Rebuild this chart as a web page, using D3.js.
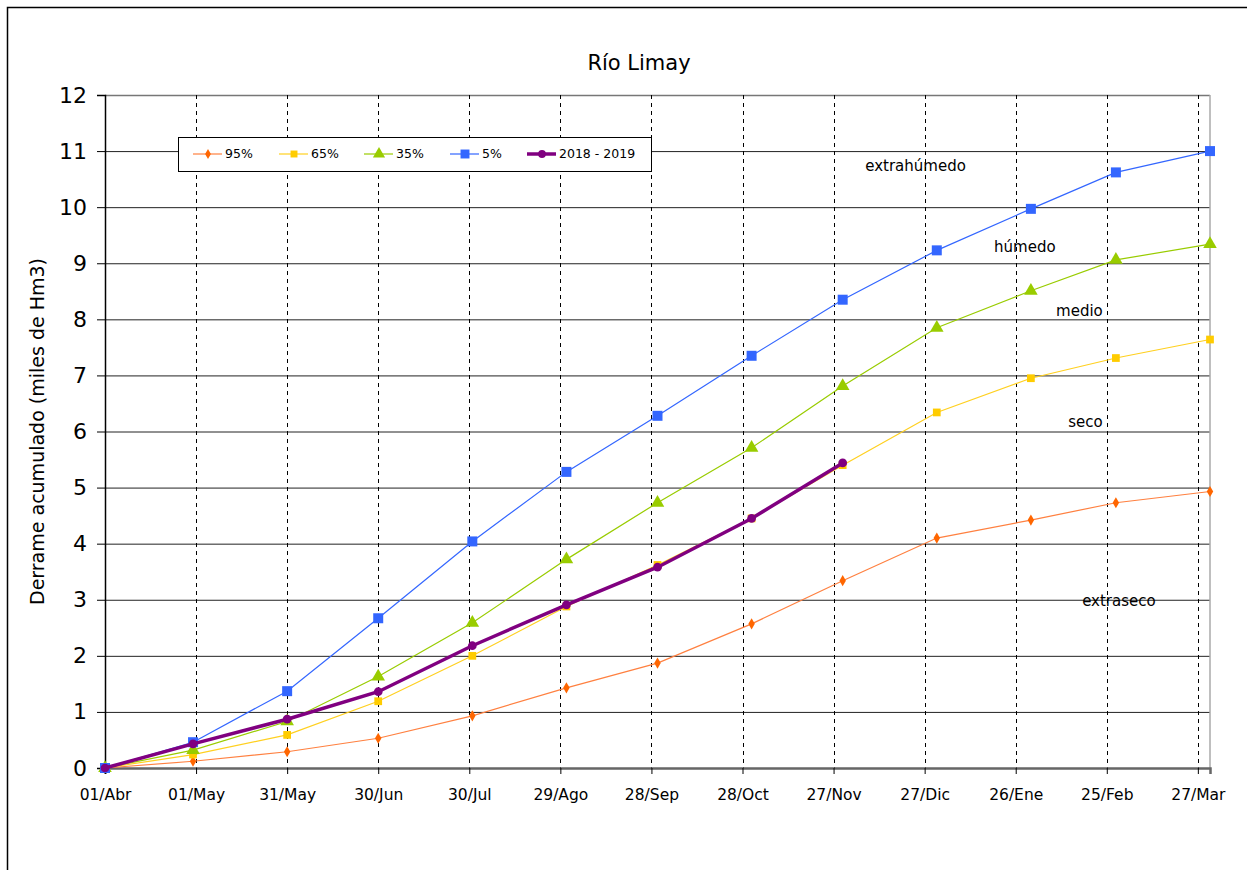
<!DOCTYPE html>
<html>
<head>
<meta charset="utf-8">
<script src="https://cdn.jsdelivr.net/npm/d3@7"></script>
<style>
  body { margin: 0; background: #fff; }
  svg { display: block; }
</style>
</head>
<body>
<svg width="1247" height="870"></svg>
<script>
'use strict';
// tick labels every 30 days from 01/Abr
var tickDates = ["2018-04-01", "2018-05-01", "2018-05-31", "2018-06-30", "2018-07-30", "2018-08-29",
  "2018-09-28", "2018-10-28", "2018-11-27", "2018-12-27", "2019-01-26", "2019-02-25", "2019-03-27"];
var tickLabels = ["01/Abr", "01/May", "31/May", "30/Jun", "30/Jul", "29/Ago",
  "28/Sep", "28/Oct", "27/Nov", "27/Dic", "26/Ene", "25/Feb", "27/Mar"];

// data points (start + month ends)
var pointDates = ["2018-04-01", "2018-04-30", "2018-05-31", "2018-06-30", "2018-07-31", "2018-08-31",
  "2018-09-30", "2018-10-31", "2018-11-30", "2018-12-31", "2019-01-31", "2019-02-28", "2019-03-31"];

var p95 = [0, 0.12, 0.29, 0.53, 0.93, 1.43, 1.87, 2.57, 3.34, 4.10, 4.42, 4.73, 4.93];
var p65 = [0, 0.24, 0.59, 1.19, 2.00, 2.88, 3.62, 4.45, 5.40, 6.34, 6.95, 7.31, 7.64];
var p35 = [0, 0.32, 0.83, 1.63, 2.59, 3.72, 4.73, 5.71, 6.81, 7.85, 8.51, 9.06, 9.34];
var p5  = [0, 0.46, 1.37, 2.67, 4.04, 5.28, 6.28, 7.35, 8.35, 9.23, 9.97, 10.62, 11.0];
var y2018 = [0, 0.43, 0.87, 1.36, 2.18, 2.91, 3.58, 4.45, 5.44];

var svg = d3.select("svg");
var parse = d3.utcParse("%Y-%m-%d");
var margin = {top: 95, right: 37, bottom: 102, left: 105};
var width = 1247 - margin.left - margin.right;
var height = 870 - margin.top - margin.bottom;
var font = "'DejaVu Sans', Verdana, sans-serif";

// outer frame
svg.append("rect")
  .attr("x", 7.5).attr("y", 7.5)
  .attr("width", 1260).attr("height", 880)
  .attr("fill", "none").attr("stroke", "#000").attr("stroke-width", 1.5);

var x = d3.scaleUtc()
  .domain([parse("2018-04-01"), parse("2019-03-31")])
  .range([0, width]);
var y = d3.scaleLinear().domain([0, 12]).range([height, 0]);

var g = svg.append("g").attr("transform", "translate(" + margin.left + "," + margin.top + ")");

// horizontal grid
g.append("g").selectAll("line")
  .data(d3.range(1, 12))
  .enter().append("line")
  .attr("x1", 0).attr("x2", width)
  .attr("y1", function(d) { return y(d) + 0.5; })
  .attr("y2", function(d) { return y(d) + 0.5; })
  .attr("stroke", "#222").attr("stroke-width", 1);

// top + right border
g.append("line").attr("x1", 0).attr("x2", width).attr("y1", 0.5).attr("y2", 0.5)
  .attr("stroke", "#777").attr("stroke-width", 1.5);
g.append("line").attr("x1", width).attr("x2", width).attr("y1", 0).attr("y2", height)
  .attr("stroke", "#aaa").attr("stroke-width", 1.5);

// vertical dashed grid
g.append("g").selectAll("line")
  .data(tickDates.slice(1))
  .enter().append("line")
  .attr("x1", function(d) { return Math.round(x(parse(d))) + 0.5; })
  .attr("x2", function(d) { return Math.round(x(parse(d))) + 0.5; })
  .attr("y1", 0).attr("y2", height)
  .attr("stroke", "#000").attr("stroke-dasharray", "4,4");

// x axis
var xAxis = d3.axisBottom(x)
  .tickValues(tickDates.map(parse))
  .tickSize(6)
  .tickFormat(function(d, i) { return tickLabels[i]; });
var gx = g.append("g")
  .attr("transform", "translate(0," + height + ")")
  .call(xAxis);
gx.select(".domain").attr("stroke", "#666").attr("stroke-width", 2.5);
gx.selectAll(".tick line").attr("stroke", "#000");
gx.selectAll(".tick text")
  .attr("font-family", font).attr("font-size", 15.5).attr("fill", "#000")
  .attr("dy", "1.5em");

// y axis
var yAxis = d3.axisLeft(y).ticks(12).tickSize(8).tickPadding(10);
var gy = g.append("g").call(yAxis);
gy.select(".domain").attr("stroke", "#000").attr("stroke-width", 1.5);
gy.selectAll(".tick line").attr("stroke", "#000");
gy.selectAll(".tick text")
  .attr("font-family", font).attr("font-size", 22).attr("fill", "#000");

// region labels
var regions = [
  {t: "extrahúmedo", d: "2018-12-24", v: 10.65},
  {t: "húmedo", d: "2019-01-29", v: 9.2},
  {t: "medio", d: "2019-02-16", v: 8.06},
  {t: "seco", d: "2019-02-18", v: 6.08},
  {t: "extraseco", d: "2019-03-01", v: 2.89}
];
g.append("g").selectAll("text")
  .data(regions)
  .enter().append("text")
  .attr("x", function(d) { return x(parse(d.d)); })
  .attr("y", function(d) { return y(d.v); })
  .attr("text-anchor", "middle")
  .attr("font-family", font).attr("font-size", 15).attr("fill", "#000")
  .text(function(d) { return d.t; });

var series = [
  {name: "95%", values: p95, color: "#ff6600", line: "#ff8040", lw: 1.2, shape: d3.symbolDiamond, size: 36},
  {name: "65%", values: p65, color: "#ffcc00", line: "#ffd020", lw: 1.2, shape: d3.symbolSquare, size: 60},
  {name: "35%", values: p35, color: "#99cc00", line: "#99cc00", lw: 1.2, shape: d3.symbolTriangle, size: 80},
  {name: "5%", values: p5, color: "#3366ff", line: "#3366ff", lw: 1.2, shape: d3.symbolSquare, size: 100},
  {name: "2018 - 2019", values: y2018, color: "#800080", line: "#800080", lw: 3.5, shape: d3.symbolCircle, size: 60}
];

var line = d3.line()
  .x(function(d) { return x(d.date); })
  .y(function(d) { return y(d.v); });

series.forEach(function(s) {
  var pts = s.values.map(function(v, i) { return {date: parse(pointDates[i]), v: v}; });
  var sg = g.append("g");
  sg.append("path")
    .datum(pts)
    .attr("fill", "none")
    .attr("stroke", s.line)
    .attr("stroke-width", s.lw)
    .attr("d", line);
  sg.selectAll("path.pt")
    .data(pts)
    .enter().append("path")
    .attr("class", "pt")
    .attr("transform", function(d) { return "translate(" + x(d.date) + "," + y(d.v) + ")"; })
    .attr("d", d3.symbol().type(s.shape).size(s.size))
    .attr("fill", s.color);
});

// legend
var legend = svg.append("g").attr("transform", "translate(178,137)");
legend.append("rect")
  .attr("x", 0.5).attr("y", 0.5).attr("width", 473).attr("height", 34)
  .attr("fill", "#fff").attr("stroke", "#000").attr("stroke-width", 1);
var legX = [15, 101, 186, 272, 349];
var item = legend.selectAll("g.item")
  .data(series)
  .enter().append("g")
  .attr("class", "item")
  .attr("transform", function(d, i) { return "translate(" + legX[i] + ",17)"; });
item.append("line")
  .attr("x1", 0).attr("x2", 29)
  .attr("stroke", function(d) { return d.line; })
  .attr("stroke-width", function(d) { return d.lw; });
item.append("path")
  .attr("transform", "translate(15,0)")
  .attr("d", function(d) { return d3.symbol().type(d.shape).size(d.size * 0.8)(); })
  .attr("fill", function(d) { return d.color; });
item.append("text")
  .attr("x", 32).attr("dy", "0.35em")
  .attr("font-family", font).attr("font-size", 12.5).attr("fill", "#000")
  .text(function(d) { return d.name; });

// title
svg.append("text")
  .attr("x", 639).attr("y", 70)
  .attr("text-anchor", "middle")
  .attr("font-family", font).attr("font-size", 21).attr("fill", "#000")
  .text("Río Limay");

// y label
svg.append("text")
  .attr("transform", "translate(44," + (margin.top + height / 2) + ") rotate(-90)")
  .attr("text-anchor", "middle")
  .attr("font-family", font).attr("font-size", 19).attr("fill", "#000")
  .text("Derrame acumulado (miles de Hm3)");
</script>
</body>
</html>
